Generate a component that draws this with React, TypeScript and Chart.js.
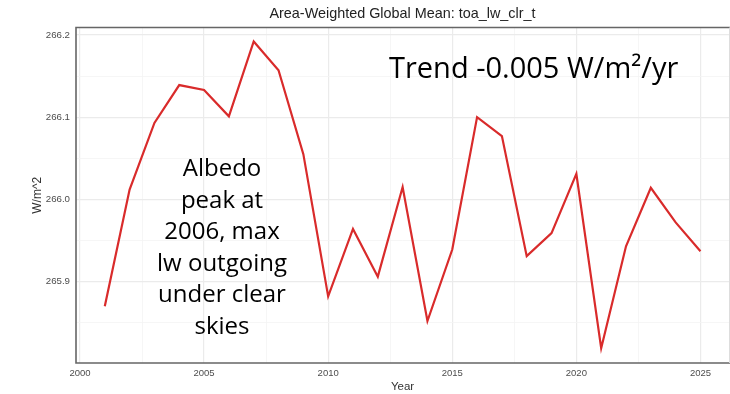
import React, { useEffect, useRef } from "react";
import { Chart, registerables } from "chart.js";

Chart.register(...registerables);

const years = [2001, 2002, 2003, 2004, 2005, 2006, 2007, 2008, 2009, 2010, 2011, 2012, 2013, 2014, 2015, 2016, 2017, 2018, 2019, 2020, 2021, 2022, 2023, 2024, 2025];
const values = [265.870, 266.012, 266.093, 266.139, 266.133, 266.101, 266.192, 266.157, 266.055, 265.882, 265.964, 265.906, 266.015, 265.852, 265.939, 266.100, 266.077, 265.931, 265.959, 266.031, 265.819, 265.943, 266.014, 265.972, 265.937];
const xTicks = [2000, 2002.5, 2005, 2007.5, 2010, 2012.5, 2015, 2017.5, 2020, 2022.5, 2025];
const yTicks = [265.85, 265.9, 265.95, 266.0, 266.05, 266.1, 266.15, 266.2];
const titleText = "Area-Weighted Global Mean: toa_lw_clr_t";
const xTitle = "Year";
const yTitle = "W/m^2";
const trendText = "Trend -0.005 W/m\u00B2/yr";
const noteLines = ["Albedo", "peak at", "2006, max", "lw outgoing", "under clear", "skies"];

const isMajorX = (v: number) => Math.abs(v % 5) < 1e-6;
const isMajorY = (v: number) => Math.abs(Math.round(v * 10) - v * 10) < 1e-6;

export default function App() {
  const ref = useRef<HTMLCanvasElement | null>(null);
  useEffect(() => {
    document.body.style.margin = "0";
    const ctx = ref.current!;
    const annot = {
      id: "annot",
      afterDraw(chart: any) {
        const c = chart.ctx;
        const a = chart.chartArea;
        c.save();
        // panel border
        c.strokeStyle = "#666666";
        c.lineWidth = 1.6;
        c.beginPath();
        c.moveTo(a.right + 2, a.top);
        c.lineTo(a.left, a.top);
        c.lineTo(a.left, a.bottom);
        c.lineTo(a.right + 2, a.bottom);
        c.stroke();
        c.strokeStyle = "#dddddd";
        c.lineWidth = 1;
        c.beginPath();
        c.moveTo(a.right + 0.5, a.top);
        c.lineTo(a.right + 0.5, a.bottom);
        c.stroke();
        // annotations
        c.fillStyle = "#000000";
        c.textAlign = "left";
        c.textBaseline = "alphabetic";
        c.font = "29px 'Open Sans', Lato, sans-serif";
        c.fillText(trendText, 389, 78);
        c.textAlign = "center";
        c.font = "24px 'Open Sans', Lato, sans-serif";
        noteLines.forEach((l, i) => {
          c.fillText(l, 222, 176 + i * 31.6);
        });
        c.restore();
      },
    };
    const chart = new Chart(ctx, {
      type: "line",
      data: {
        labels: years,
        datasets: [
          {
            data: years.map((y, i) => ({ x: y, y: values[i] })),
            borderColor: "#d92b2b",
            borderWidth: 2.2,
            pointRadius: 0,
            tension: 0,
            fill: false,
          },
        ],
      },
      options: {
        responsive: false,
        animation: false,
        layout: { padding: { left: 0, right: 1, top: 0, bottom: 0 } },
        plugins: {
          legend: { display: false },
          tooltip: { enabled: false },
          title: {
            display: true,
            fullSize: false,
            text: titleText,
            color: "#222222",
            font: { family: "'Liberation Sans', Arial, sans-serif", size: 14.4, weight: "normal", lineHeight: "16px" as any },
            padding: { top: 6, bottom: 5.5 },
          },
        },
        scales: {
          x: {
            type: "linear",
            min: 1999.84,
            max: 2026.15,
            afterBuildTicks: (s: any) => {
              s.ticks = xTicks.map((v) => ({ value: v }));
            },
            afterFit: (s: any) => {
              s.height = 31;
            },
            border: { display: false },
            grid: {
              drawTicks: false,
              color: (c: any) => (isMajorX(c.tick.value) ? "#ebebeb" : "#f4f4f4"),
              lineWidth: (c: any) => (isMajorX(c.tick.value) ? 1.2 : 0.8),
            },
            ticks: {
              autoSkip: false,
              maxRotation: 0,
              padding: 5,
              color: "#4d4d4d",
              font: { family: "'Liberation Sans', Arial, sans-serif", size: 9.5 },
              callback: (v: any) => (isMajorX(Number(v)) ? String(v) : ""),
            },
            title: {
              display: true,
              text: xTitle,
              color: "#333333",
              font: { family: "'Liberation Sans', Arial, sans-serif", size: 11.5 },
              padding: { top: 0, bottom: 0 },
            },
          },
          y: {
            type: "linear",
            min: 265.801,
            max: 266.209,
            afterBuildTicks: (s: any) => {
              s.ticks = yTicks.map((v) => ({ value: v }));
            },
            afterFit: (s: any) => {
              s.width = 76;
            },
            border: { display: false },
            grid: {
              drawTicks: false,
              color: (c: any) => (isMajorY(c.tick.value) ? "#ebebeb" : "#f4f4f4"),
              lineWidth: (c: any) => (isMajorY(c.tick.value) ? 1.2 : 0.8),
            },
            ticks: {
              autoSkip: false,
              padding: 6,
              color: "#4d4d4d",
              font: { family: "'Liberation Sans', Arial, sans-serif", size: 9.7 },
              callback: (v: any) => (isMajorY(Number(v)) ? Number(v).toFixed(1) : ""),
            },
            title: {
              display: true,
              text: yTitle,
              color: "#333333",
              font: { family: "'Liberation Sans', Arial, sans-serif", size: 12 },
              padding: { top: 30, bottom: 2 },
            },
          },
        },
      },
      plugins: [annot],
    });
    return () => chart.destroy();
  }, []);
  return (
    <div style={{ position: "absolute", left: 0, top: 0, width: 730, height: 394, background: "#fff" }}>
      <canvas ref={ref} width={730} height={394} />
    </div>
  );
}
